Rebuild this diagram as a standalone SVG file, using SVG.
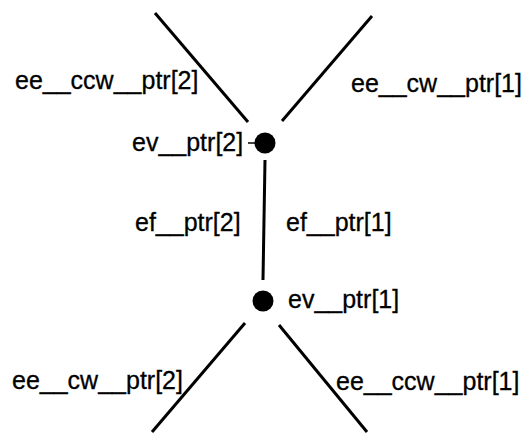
<svg xmlns="http://www.w3.org/2000/svg" width="529" height="434" viewBox="0 0 529 434">
  <style>
    .edge { stroke: #000; stroke-width: 3; stroke-linecap: butt; fill: none; }
    .dot { fill: #000; }
    .lbl { font-family: "Liberation Sans", Arial, sans-serif; font-size: 25px; fill: #000; stroke: #000; stroke-width: 0.3; }
  </style>
  <rect x="0" y="0" width="529" height="434" fill="#fff"/>
  <g id="connectors">
    <line class="edge" x1="155" y1="13" x2="248" y2="122"/>
    <line class="edge" x1="372" y1="16" x2="282" y2="121"/>
    <line class="edge" x1="265" y1="160" x2="263" y2="280"/>
    <line class="edge" x1="245" y1="323" x2="152" y2="432"/>
    <line class="edge" x1="279" y1="325" x2="367" y2="432"/>
    <line stroke="#000" stroke-width="1.5" x1="248" y1="143" x2="255" y2="143"/>
  </g>
  <g id="vertex-top">
    <circle class="dot" cx="265" cy="143" r="10.5"/>
    <text class="lbl" x="132" y="151">ev__ptr[2]</text>
  </g>
  <g id="vertex-bottom">
    <circle class="dot" cx="263" cy="301" r="10.5"/>
    <text class="lbl" x="288" y="308">ev__ptr[1]</text>
  </g>
  <g id="labels">
    <text class="lbl" x="15" y="89">ee__ccw__ptr[2]</text>
    <text class="lbl" x="351" y="92">ee__cw__ptr[1]</text>
    <text class="lbl" x="135" y="231">ef__ptr[2]</text>
    <text class="lbl" x="286" y="231">ef__ptr[1]</text>
    <text class="lbl" x="12" y="389">ee__cw__ptr[2]</text>
    <text class="lbl" x="336" y="390">ee__ccw__ptr[1]</text>
  </g>
</svg>
